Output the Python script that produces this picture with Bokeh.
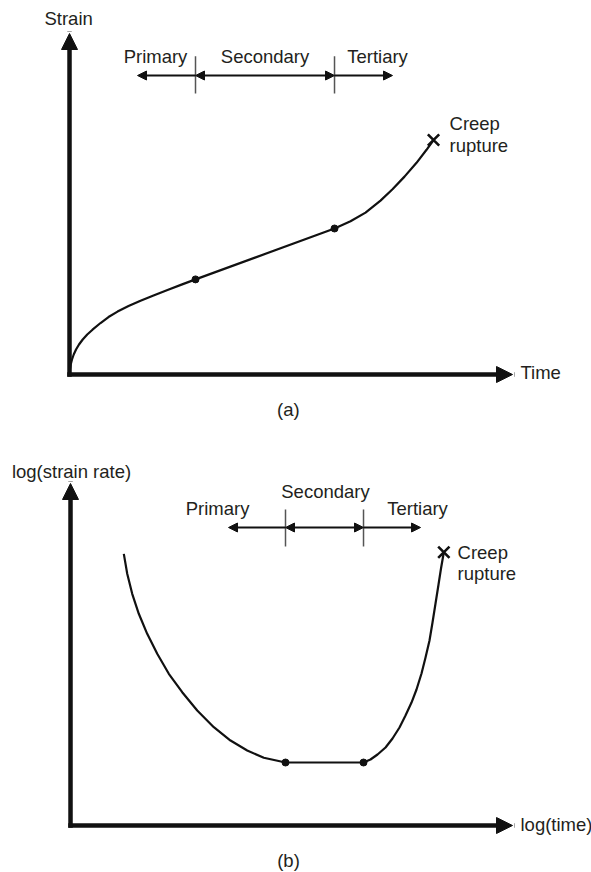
from bokeh.plotting import figure
from bokeh.layouts import column
from bokeh.models import Range1d, Arrow, NormalHead
from bokeh.embed import file_html
from bokeh.resources import INLINE
from bokeh.core.properties import value

# ---------------- data: panel (a) strain vs time (arbitrary units, axes run 0..10)
a_time = [0.0, 0.009, 0.027, 0.056, 0.095, 0.147, 0.214, 0.298, 0.400, 0.519, 0.700,
          0.880, 1.084, 1.332, 1.603, 1.896, 2.212, 2.528, 2.844,
          5.982, 6.343, 6.682, 7.020, 7.291, 7.562, 7.833, 8.059, 8.217]
a_strain = [0.0, 0.147, 0.293, 0.440, 0.587, 0.733, 0.880, 1.026, 1.173, 1.314, 1.510,
            1.686, 1.845, 2.006, 2.164, 2.320, 2.481, 2.636, 2.789,
            4.282, 4.493, 4.748, 5.100, 5.434, 5.803, 6.208, 6.590, 6.877]
a_stage_time = [2.844, 5.982]          # primary|secondary, secondary|tertiary
a_stage_strain = [2.789, 4.282]
a_rupture_time = [8.217]
a_rupture_strain = [6.877]

# ---------------- data: panel (b) log strain rate vs log time
b_logtime = [1.206, 1.283, 1.396, 1.545, 1.735, 1.962, 2.224, 2.527, 2.867, 3.242, 3.620,
             3.998, 4.373, 4.864,
             6.629, 6.787, 6.946, 7.127, 7.285, 7.443, 7.579, 7.715, 7.828, 7.941, 8.032,
             8.122, 8.190, 8.258, 8.326, 8.382, 8.446]
b_lograte = [7.944, 7.360, 6.775, 6.190, 5.605, 5.020, 4.436, 3.898, 3.363, 2.874, 2.485,
             2.193, 1.980, 1.842,
             1.842, 1.930, 2.076, 2.281, 2.544, 2.865, 3.216, 3.596, 3.977, 4.444, 4.912,
             5.409, 5.936, 6.491, 7.047, 7.515, 7.991]
b_stage_time = [4.864, 6.629]
b_stage_rate = [1.842, 1.842]
b_rupture_time = [8.446]
b_rupture_rate = [7.991]

stage_labels = ["Primary", "Secondary", "Tertiary"]

# ---------------- annotation placement (data units)
a_ann = dict(arrow_y=8.768, tick_lo=8.24, tick_hi=9.33, left_tip=1.535, right_tip=7.291,
             label_x=[1.941, 4.413, 6.953], label_y=[9.326, 9.326, 9.326],
             ylabel=("Strain", -0.02, 10.44), xlabel=("Time", 10.18, 0.06),
             tag=("(a)", 4.94, -1.026), rup_x=8.578, rup_y=[7.361, 6.716])
b_ann = dict(arrow_y=8.713, tick_lo=8.158, tick_hi=9.24, left_tip=3.575, right_tip=7.919,
             label_x=[3.326, 5.769, 7.851], label_y=[9.269, 9.766, 9.269],
             ylabel=("log(strain rate)", 0.023, 10.351), xlabel=("log(time)", 10.181, 0.029),
             tag=("(b)", 4.932, -1.023), rup_x=8.756, rup_y=[7.982, 7.368])

INK = "#111111"
TXT = "#231f20"
TICK = "#555555"
FONT = "Liberation Sans"
FS = "18.5px"


def panel(xr, yr):
    p = figure(width=591, height=436, x_range=Range1d(*xr), y_range=Range1d(*yr),
               x_axis_type=None, y_axis_type=None, output_backend="svg",
               toolbar_location=None, min_border=0)
    p.grid.visible = False
    p.outline_line_color = None
    p.background_fill_color = "white"
    p.border_fill_color = "white"
    # axes as thick arrows
    for xe, ye in [(10, 0), (0, 10)]:
        p.add_layout(Arrow(end=NormalHead(size=16, fill_color=INK, line_color=INK, line_width=1),
                           x_start=0, y_start=0, x_end=xe, y_end=ye,
                           line_width=4.5, line_color=INK, line_cap="square"))
    return p


def txt(p, xs, ys, texts, align):
    p.text(x=xs, y=ys, text=texts, text_font=value(FONT), text_font_size=FS,
           text_color=TXT, text_align=align, text_baseline="middle")


def decorate(p, ann, stage_x, curve_x, curve_y, dot_x, dot_y, rup_x, rup_y):
    ay = ann["arrow_y"]
    head = lambda: NormalHead(size=9, fill_color=INK, line_color=INK, line_width=1)
    # primary (points left)
    p.add_layout(Arrow(end=head(), x_start=stage_x[0], y_start=ay, x_end=ann["left_tip"], y_end=ay,
                       line_width=2.2, line_color=INK))
    # secondary (both ends)
    p.add_layout(Arrow(start=head(), end=head(), x_start=stage_x[0], y_start=ay, x_end=stage_x[1],
                       y_end=ay, line_width=2.2, line_color=INK))
    # tertiary (points right)
    p.add_layout(Arrow(end=head(), x_start=stage_x[1], y_start=ay, x_end=ann["right_tip"], y_end=ay,
                       line_width=2.2, line_color=INK))
    # boundary ticks
    p.segment(x0=stage_x, y0=[ann["tick_lo"]] * 2, x1=stage_x, y1=[ann["tick_hi"]] * 2,
              line_color=TICK, line_width=1.5)
    txt(p, ann["label_x"], ann["label_y"], stage_labels, "center")
    # curve
    p.line(curve_x, curve_y, line_color=INK, line_width=2.2, line_join="round")
    p.scatter(dot_x, dot_y, size=7, color=INK)
    p.scatter(rup_x, rup_y, marker="x", size=16, line_color=INK, line_width=2.6)
    txt(p, [ann["rup_x"]] * 2, ann["rup_y"], ["Creep", "rupture"], "left")
    # axis titles and panel tag
    t, x, y = ann["ylabel"]
    txt(p, [x], [y], [t], "center")
    t, x, y = ann["xlabel"]
    txt(p, [x], [y], [t], "left")
    t, x, y = ann["tag"]
    txt(p, [x], [y], [t], "center")


pa = panel((-1.558, 11.783), (-1.818, 10.968))
decorate(pa, a_ann, a_stage_time, a_time, a_strain, a_stage_time, a_stage_strain,
         a_rupture_time, a_rupture_strain)

pb = panel((-1.584, 11.787), (-1.374, 11.374))
decorate(pb, b_ann, b_stage_time, b_logtime, b_lograte, b_stage_time, b_stage_rate,
         b_rupture_time, b_rupture_rate)

layout = column(pa, pb, spacing=0)
open("out.html", "w").write(file_html(layout, INLINE))
